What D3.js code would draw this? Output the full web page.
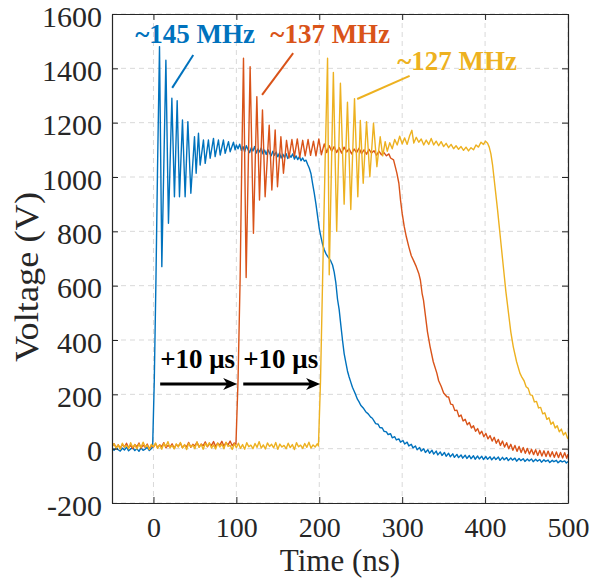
<!DOCTYPE html>
<html>
<head>
<meta charset="utf-8">
<script src="https://cdn.jsdelivr.net/npm/d3@7"></script>
<style>
  body { margin: 0; background: #fff; }
  svg { display: block; font-family: "Liberation Serif", "Times New Roman", serif; }
</style>
</head>
<body>
<div id="chart"></div>
<script>
// Voltage vs time, three pulses shifted by 10 µs each
const X_TICKS = [0, 100, 200, 300, 400, 500];
const Y_TICKS = [-200, 0, 200, 400, 600, 800, 1000, 1200, 1400, 1600];

// [time ns, voltage V]
const blueTrace = [
  [-50,3],[-47.5,-6],[-45,5],[-42.5,-4],[-40,-9],[-37.5,2],[-35,-5],[-32.5,6],[-30,-8],[-27.5,-1],
  [-25,4],[-22.5,-7],[-20,0],[-17.5,-10],[-15,3],[-12.5,-6],[-10,-2],[-7.5,5],[-5,-7],[-2.5,1],[-1,6],
  [1,250],[3,620],[5,1050],[7.3,1480],
  [10.1,670],[15,1430],[18.1,830],[22.2,1290],[25.3,927],[28.6,1281],[31.4,927],[35,1210],[38.2,927],
  [41.5,1204],[45.1,940],[49.5,1148],[51.5,1014],[54.3,1161],[56.3,1044],[60.3,1136],[62.4,1050],
  [66.3,1136],[68.4,1069],[72.4,1142],[74.4,1075],[78.4,1136],[80.5,1081],[84.4,1136],[86.5,1087],
  [90.5,1130],[92.5,1093],[96.5,1128],
  [98.5,1100],[100,1118],[102,1104],[104,1121],[106,1098],[108,1112],[110,1093],[112,1115],[114,1101],
  [116,1090],[118,1108],[120,1096],[122,1112],[124,1088],[126,1103],[128,1092],[130,1107],[132,1085],
  [134,1099],[136,1083],[138,1101],[140,1088],[142,1078],[144,1095],[146,1080],[148,1092],[150,1074],
  [152,1088],[154,1070],[156,1084],[158,1072],[160,1086],[162,1068],[164,1080],[166,1073],[168,1085],
  [170,1066],[172,1078],[174,1064],[176,1075],[178,1060],[180,1070],[182,1058],[184,1062],[186,1046],
  [188,1032],[190,1012],[192,975],[194,940],[196,900],[198,855],[200,810],[202,780],[204,752],[206,732],
  [208,718],[210,708],[212,700],[214,690],[216,676],[218,650],[220,610],[222,550],[224,512],[226,455],
  [228,400],[230,350],[232,318],[234,286],[236,264],[238,245],[240,226],[242,212],[244,198],[246,182],
  [248,172],[250,160],[253,150],[256,136],[259,128],[262,116],[264,112],
  [266,102],[268,92],[271,90],[273,78],[276,76],[278,64],[281,62],[283,52],[286,55],[288,40],
  [291,44],[293,32],[296,36],[298,24],[301,30],[303,17],[306,24],[308,10],[311,16],[313,3],
  [316,10],[318,-4],[321,4],[323,-9],[326,0],[328,-14],[331,-4],[333,-17],[336,-6],[338,-20],
  [341,-9],[343,-23],[346,-12],[348,-25],[351,-14],[353,-28],[356,-17],[358,-30],[361,-19],[363,-32],
  [366,-21],[368,-33],[371,-23],[373,-35],[376,-24],[378,-36],[381,-25],[383,-37],[386,-26],[388,-39],
  [391,-27],[393,-38],[396,-28],[398,-40],[401,-29],[403,-39],[406,-30],[408,-41],[411,-31],[413,-40],
  [416,-31],[418,-43],[421,-32],[423,-41],[426,-33],[428,-44],[431,-34],[433,-42],[436,-35],[438,-46],
  [441,-36],[443,-44],[446,-37],[448,-47],[451,-38],[453,-45],[456,-38],[458,-48],[461,-39],[463,-46],
  [466,-40],[468,-50],[471,-41],[473,-47],[476,-42],[478,-51],[481,-43],[483,-48],[486,-43],[488,-52],
  [491,-44],[493,-49],[496,-45],[498,-53],[500,-47]
];

const orangeTrace = [
  [-50,8],[-47.5,18],[-45,4],[-42.5,14],[-40,1],[-37.5,16],[-35,6],[-32.5,20],[-30,3],[-27.5,12],
  [-25,0],[-22.5,15],[-20,7],[-17.5,21],[-15,2],[-12.5,13],[-10,5],[-7.5,17],[-5,-1],[-2.5,11],
  [0,6],[2.5,19],[5,4],[7.5,14],[10,8],[12.5,22],[15,3],[17.5,12],[20,6],[22.5,18],
  [25,1],[27.5,15],[30,9],[32.5,20],[35,4],[37.5,13],[40,7],[42.5,23],[45,5],[47.5,16],
  [50,10],[52.5,24],[55,6],[57.5,17],[60,11],[62.5,25],[65,7],[67.5,18],[70,12],[72.5,26],
  [75,8],[77.5,20],[80,13],[82.5,27],[85,9],[87.5,22],[90,14],[92.5,28],[95,11],[97.5,21],[99.5,16],
  [102,250],[104.5,620],[106.5,1050],[108.6,1437],
  [111.8,630],[116.6,1406],[120.6,793],[124.7,1296],[127.9,915],[131.5,1247],[134.7,927],[139.6,1191],
  [142.8,952],[146.8,1173],[149.6,964],[153.7,1148],[156.8,1014],
  [160.5,1135],[163.5,1070],[167,1138],[170,1075],[173.5,1140],[176.5,1072],[180,1135],[183,1078],
  [186.5,1138],[189.5,1080],[193,1132],[196,1078],[199.5,1140],[202.5,1082],[206,1122],[209,1090],
  [212,1115],[215,1095],[218,1112],[221,1090],[224,1108],[227,1088],[230,1110],[233,1092],[236,1104],
  [239,1085],[242,1103],[245,1090],[248,1106],[251,1086],[254,1100],[257,1084],[260,1102],[263,1088],
  [266,1097],[269,1080],[272,1095],[275,1082],[278,1090],[281,1078],[284,1085],[286,1070],
  [289.6,1063],[291.5,1040],[293.6,1014],[296,977],[298,915],[300,866],[302.5,817],[305,780],[308,743],
  [311,710],[313.5,694],[317,670],[320,645],[322,620],[324,572],[325.7,547],[327.7,498],[330.5,430],
  [333.7,375],[337.5,320],[341.8,278],[344,250],[347,230],[350,205],[353.9,191],
  [356,190],[358.5,164],[361,162],[363.5,140],[366,142],[368.5,118],[371,124],[373.5,102],[376,108],
  [378.5,88],[381,96],[383.5,76],[386,84],[388.5,64],[391,74],[393.5,54],[396,64],[398.5,44],
  [401,56],[403.5,36],[406,48],[408.5,28],[411,42],[413.5,20],[416,34],[418.5,12],[421,28],
  [423.5,6],[426,22],[428.5,0],[431,16],[433.5,-6],[436,12],[438.5,-10],[441,8],[443.5,-14],
  [446,4],[448.5,-17],[451,1],[453.5,-20],[456,-2],[458.5,-22],[461,-4],[463.5,-25],[466,-6],
  [468.5,-27],[471,-8],[473.5,-29],[476,-9],[478.5,-30],[481,-11],[483.5,-32],[486,-12],[488.5,-33],
  [491,-14],[493.5,-34],[496,-15],[498.5,-35],[500,-20]
];

const yellowTrace = [
  [-50,8],[-47.5,18],[-45,2],[-42.5,14],[-40,-2],[-37.5,20],[-35,6],[-32.5,12],[-30,0],[-27.5,22],
  [-25,5],[-22.5,15],[-20,-1],[-17.5,17],[-15,4],[-12.5,24],[-10,7],[-7.5,13],[-5,-3],[-2.5,16],
  [0,6],[2.5,21],[5,1],[7.5,14],[10,-2],[12.5,19],[15,8],[17.5,26],[20,3],[22.5,12],
  [25,-1],[27.5,18],[30,6],[32.5,23],[35,2],[37.5,15],[40,-3],[42.5,20],[45,7],[47.5,13],
  [50,0],[52.5,25],[55,5],[57.5,16],[60,-2],[62.5,19],[65,9],[67.5,22],[70,2],[72.5,14],
  [75,-1],[77.5,21],[80,6],[82.5,17],[85,0],[87.5,24],[90,8],[92.5,12],[95,-3],[97.5,18],
  [100,4],[102.5,20],[105,1],[107.5,15],[110,-2],[112.5,22],[115,7],[117.5,13],[120,0],[122.5,19],
  [125,5],[127.5,26],[130,2],[132.5,14],[135,-1],[137.5,21],[140,8],[142.5,16],[145,3],[147.5,23],
  [150,-2],[152.5,17],[155,6],[157.5,12],[160,0],[162.5,20],[165,4],[167.5,15],[170,-3],[172.5,22],
  [175,7],[177.5,13],[180,1],[182.5,19],[185,5],[187.5,24],[190,2],[192.5,14],[195,6],[197.5,18],[199,10],
  [201.5,250],[204,620],[207,1050],[210,1437],
  [212,640],[217,1385],[221,800],[225.5,1345],[230,900],[234,1275],[238,880],[242.5,1288],[246.5,927],
  [249.5,1208],[253,977],[257,1204],[261,1001],[265.4,1198],[269.5,1038],[273.5,1148],[276.5,1078],
  [279.5,1130],[282,1095],[285,1126],[288,1104],[291,1138],[294,1118],[297,1150],[300,1122],[303,1144],
  [306,1120],[309,1152],[311.7,1172],[314,1125],[317,1146],[320,1128],[323,1140],[326,1118],[329,1136],
  [332,1120],[335,1142],[338,1118],[341,1132],[344,1115],[347,1130],[350,1112],[353,1124],[356,1108],
  [359,1120],[362,1104],[365,1115],[368,1102],[371,1112],[374,1098],[377,1110],[380,1096],[383,1108],
  [386,1100],[389,1118],[392,1110],[395,1128],[398,1120],[400.5,1132],[403,1124],[405,1110],
  [407,1085],[409,1045],[411,990],[413,935],[415,880],[417,820],[419,760],[421,700],[423,640],
  [425,580],[427,530],[429,480],[431,430],[434,375],[438,320],
  [442,278],[444.5,262],[447,250],[449.5,228],[452,222],[454.5,198],[457,196],[459.5,172],[462,174],
  [464.5,150],[467,152],[469.5,128],[472,132],[474.5,108],[477,114],[479.5,90],[482,98],[484.5,76],
  [487,84],[489.5,62],[492,72],[494.5,50],[497,60],[499.5,38],[500,44]
];

const SERIES_COLORS = ["#0072BD", "#D95319", "#EDB120"];
const SERIES = [blueTrace, orangeTrace, yellowTrace];

// frequency notes: text, anchor [t,v], leader line [[t,v],[t,v]]
const NOTE_TEXT   = ["~145 MHz", "~137 MHz", "~127 MHz"];
const NOTE_AT     = [[-22, 1493], [141, 1493], [294, 1394]];
const NOTE_LEADER = [
  [[48, 1449], [22.6, 1328]],
  [[168.5, 1456], [131, 1302]],
  [[309, 1372], [245.7, 1287]]
];
// "+10 µs" shifts
const SHIFT_TEXT  = ["+10 μs", "+10 μs"];
const SHIFT_FROM  = [[8.1, 238], [108.3, 238]];
const SHIFT_TO    = [[101, 238], [201, 238]];
const SHIFT_LABEL = [[8.1, 297], [108.3, 297]];

const W = 592, H = 586;
const plot = { left: 112, right: 568, top: 14, bottom: 503 };
const ink = "#262626";
const SERIF = "'Liberation Serif', 'Times New Roman', serif";

const svg = d3.select("#chart").append("svg")
  .attr("width", W).attr("height", H);

const x = d3.scaleLinear().domain([-50, 500]).range([plot.left, plot.right]);
const y = d3.scaleLinear().domain([-200, 1600]).range([plot.bottom, plot.top]);

// grid
const grid = svg.append("g")
  .attr("stroke", "#d9d9d9").attr("stroke-width", 1).attr("stroke-dasharray", "5,4");
grid.selectAll(".gx").data(X_TICKS).join("line")
  .attr("x1", d => x(d)).attr("x2", d => x(d))
  .attr("y1", plot.top).attr("y2", plot.bottom);
grid.selectAll(".gy").data(Y_TICKS).join("line")
  .attr("x1", plot.left).attr("x2", plot.right)
  .attr("y1", d => y(d)).attr("y2", d => y(d));

// traces
svg.append("clipPath").attr("id", "clip").append("rect")
  .attr("x", plot.left).attr("y", plot.top)
  .attr("width", plot.right - plot.left).attr("height", plot.bottom - plot.top);

const line = d3.line().x(d => x(d[0])).y(d => y(d[1]));
svg.append("g").attr("clip-path", "url(#clip)")
  .selectAll("path").data(SERIES).join("path")
    .attr("d", line)
    .attr("fill", "none")
    .attr("stroke", (d, i) => SERIES_COLORS[i])
    .attr("stroke-width", 1.4)
    .attr("stroke-linejoin", "round");

// axes (box with inward ticks)
const plainNum = d => String(d);   // "-200", "1600" (no grouping, ascii minus)
function styleAxis(size){
  return g => {
    g.attr("font-family", null).attr("font-size", null);
    g.select(".domain").attr("stroke", ink).attr("stroke-width", 1.2);
    g.selectAll(".tick line").attr("stroke", ink).attr("stroke-width", 1);
    g.selectAll("text").attr("fill", ink)
      .style("font-family", SERIF).style("font-size", size + "px");
  };
}
svg.append("g").attr("transform", `translate(0,${plot.bottom})`)
  .call(d3.axisBottom(x).tickValues(X_TICKS).tickFormat(plainNum)
    .tickSizeInner(-6).tickSizeOuter(0).tickPadding(14))
  .call(styleAxis(28));
svg.append("g").attr("transform", `translate(0,${plot.top})`)
  .call(d3.axisTop(x).tickValues(X_TICKS).tickSizeInner(-6).tickSizeOuter(0).tickFormat(""))
  .call(styleAxis(28));
const gy = svg.append("g").attr("transform", `translate(${plot.left},0)`)
  .call(d3.axisLeft(y).tickValues(Y_TICKS).tickFormat(plainNum)
    .tickSizeInner(-6).tickSizeOuter(0).tickPadding(10))
  .call(styleAxis(30));
gy.selectAll("text").attr("dy", "0.4em");
svg.append("g").attr("transform", `translate(${plot.right},0)`)
  .call(d3.axisRight(y).tickValues(Y_TICKS).tickSizeInner(-6).tickSizeOuter(0).tickFormat(""))
  .call(styleAxis(28));

// axis titles
svg.append("text")
  .attr("x", (plot.left + plot.right) / 2).attr("y", 571)
  .attr("text-anchor", "middle").attr("font-size", 31).attr("fill", ink)
  .text("Time (ns)");
svg.append("text")
  .attr("transform", "translate(38,277) rotate(-90)")
  .attr("text-anchor", "middle").attr("font-size", 33).attr("fill", ink)
  .attr("textLength", 170).attr("lengthAdjust", "spacingAndGlyphs")
  .text("Voltage (V)");

// frequency annotations
const notes = svg.append("g");
NOTE_TEXT.forEach((t, i) => {
  const [a, b] = NOTE_LEADER[i];
  notes.append("line")
    .attr("x1", x(a[0])).attr("y1", y(a[1]))
    .attr("x2", x(b[0])).attr("y2", y(b[1]))
    .attr("stroke", SERIES_COLORS[i]).attr("stroke-width", 2);
  notes.append("text")
    .attr("x", x(NOTE_AT[i][0])).attr("y", y(NOTE_AT[i][1]))
    .attr("font-size", 27).attr("font-weight", "bold")
    .attr("fill", SERIES_COLORS[i])
    .text(t);
});

// shift arrows
const arrows = svg.append("g");
SHIFT_TEXT.forEach((t, i) => {
  const x0 = x(SHIFT_FROM[i][0]), y0 = y(SHIFT_FROM[i][1]);
  const x1 = x(SHIFT_TO[i][0]),   y1 = y(SHIFT_TO[i][1]);
  arrows.append("line")
    .attr("x1", x0).attr("y1", y0).attr("x2", x1 - 8).attr("y2", y1)
    .attr("stroke", "#000").attr("stroke-width", 3);
  arrows.append("path")
    .attr("d", `M${x1},${y1} L${x1 - 14},${y1 - 6} L${x1 - 10},${y1} L${x1 - 14},${y1 + 6} Z`)
    .attr("fill", "#000");
  arrows.append("text")
    .attr("x", x(SHIFT_LABEL[i][0])).attr("y", y(SHIFT_LABEL[i][1]))
    .attr("font-size", 27).attr("font-weight", "bold").attr("fill", "#000")
    .text(t);
});
</script>
</body>
</html>
